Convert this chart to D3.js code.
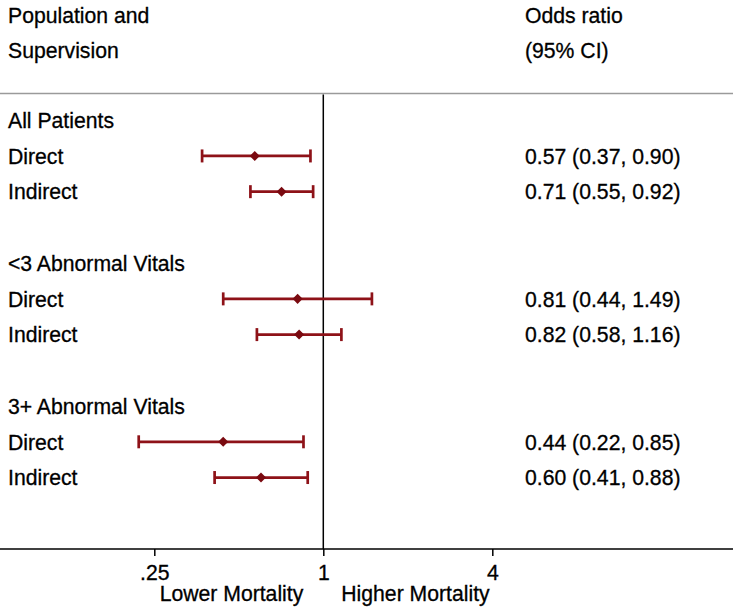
<!DOCTYPE html>
<html>
<head>
<meta charset="utf-8">
<script src="https://cdn.jsdelivr.net/npm/d3@7/dist/d3.min.js"></script>
<style>
  html, body { margin: 0; padding: 0; background: #fff; }
  svg text { font-family: "Liberation Sans", Arial, Helvetica, sans-serif; fill: #000; stroke: #000; stroke-width: 0.3px; }
</style>
</head>
<body>
<svg id="chart" width="733" height="611"></svg>
<script>
// ---- data ----
const groups = ["All Patients", "<3 Abnormal Vitals", "3+ Abnormal Vitals"];
const supervision = ["Direct", "Indirect"];
const oddsRatio = [0.57, 0.71, 0.81, 0.82, 0.44, 0.60];
const ciLower   = [0.37, 0.55, 0.44, 0.58, 0.22, 0.41];
const ciUpper   = [0.90, 0.92, 1.49, 1.16, 0.85, 0.88];
const tickValues = [0.25, 1, 4];
const tickLabels = [".25", "1", "4"];
const headerLeft = ["Population and", "Supervision"];
const headerRight = ["Odds ratio", "(95% CI)"];
const directionLabels = ["Lower Mortality", "Higher Mortality"];

// ---- layout ----
const W = 733, H = 611;
const FS = 21.2;
const svg = d3.select("#chart");
const color = "#8e1218";
const markColor = "#7a0a10";

const x = d3.scaleLog().domain([0.25, 4]).range([154.3, 492.3]);
const y = d3.scaleLinear().domain([0, 12]).range([120.2, 549]);
const axisY = y(12);
const lineTop = 93.5;

// build rows
const rows = [];
groups.forEach((g, gi) => {
  rows.push({type: "group", label: g, idx: gi * 4});
  supervision.forEach((s, si) => {
    const k = gi * 2 + si;
    rows.push({type: "est", label: s, idx: gi * 4 + 1 + si,
      or: oddsRatio[k], lo: ciLower[k], hi: ciUpper[k]});
  });
});

const fmt = d3.format(".2f");

// header
svg.selectAll("text.hl").data(headerLeft).join("text")
  .attr("class", "hl").attr("x", 8).attr("y", (d, i) => 22.5 + i * 35)
  .style("font-size", FS + "px").text(d => d);
svg.selectAll("text.hr").data(headerRight).join("text")
  .attr("class", "hr").attr("x", 525).attr("y", (d, i) => 22.5 + i * 35)
  .style("font-size", FS + "px").text(d => d);

// separator
svg.append("line").attr("x1", 0).attr("x2", W).attr("y1", lineTop).attr("y2", lineTop)
  .attr("stroke", "#9a9a9a").attr("stroke-width", 1.5);

// reference line at 1
svg.append("line").attr("x1", x(1)).attr("x2", x(1)).attr("y1", lineTop + 1).attr("y2", axisY)
  .attr("stroke", "#000").attr("stroke-width", 1.5);

// row labels
svg.selectAll("text.rl").data(rows).join("text")
  .attr("class", "rl").attr("x", 8).attr("y", d => y(d.idx) + 7.8)
  .style("font-size", FS + "px").text(d => d.label);

const est = rows.filter(d => d.type === "est");

// CI text
svg.selectAll("text.ci").data(est).join("text")
  .attr("class", "ci").attr("x", 525).attr("y", d => y(d.idx) + 7.8)
  .style("font-size", FS + "px")
  .text(d => `${fmt(d.or)} (${fmt(d.lo)}, ${fmt(d.hi)})`);

// error bars
const eb = svg.selectAll("g.eb").data(est).join("g").attr("class", "eb");
eb.append("line").attr("x1", d => x(d.lo)).attr("x2", d => x(d.hi))
  .attr("y1", d => y(d.idx)).attr("y2", d => y(d.idx))
  .attr("stroke", color).attr("stroke-width", 2.7);
eb.append("line").attr("x1", d => x(d.lo)).attr("x2", d => x(d.lo))
  .attr("y1", d => y(d.idx) - 6.5).attr("y2", d => y(d.idx) + 6.5)
  .attr("stroke", color).attr("stroke-width", 2.7);
eb.append("line").attr("x1", d => x(d.hi)).attr("x2", d => x(d.hi))
  .attr("y1", d => y(d.idx) - 6.5).attr("y2", d => y(d.idx) + 6.5)
  .attr("stroke", color).attr("stroke-width", 2.7);
eb.append("path")
  .attr("d", d3.symbol().type(d3.symbolDiamond2).size(64))
  .attr("transform", d => `translate(${x(d.or)},${y(d.idx)})`)
  .attr("fill", markColor);

// x axis
svg.append("line").attr("x1", 0).attr("x2", W).attr("y1", axisY).attr("y2", axisY)
  .attr("stroke", "#000").attr("stroke-width", 1.5);
const axis = d3.axisBottom(x).tickValues(tickValues)
  .tickFormat((d, i) => tickLabels[i]).tickSize(7).tickPadding(9);
const ga = svg.append("g").attr("transform", `translate(0,${axisY})`).call(axis);
ga.select(".domain").remove();
ga.selectAll(".tick line").attr("stroke", "#000").attr("stroke-width", 1.5);
ga.selectAll(".tick text").style("font-size", FS + "px")
  .style("font-family", "'Liberation Sans', Arial, Helvetica, sans-serif")
  .attr("fill", "#000").attr("stroke", "#000").attr("stroke-width", 0.3);

// direction labels
svg.append("text").attr("x", x(1) - 20).attr("y", 601).attr("text-anchor", "end")
  .style("font-size", FS + "px").text(directionLabels[0]);
svg.append("text").attr("x", x(1) + 18).attr("y", 601).attr("text-anchor", "start")
  .style("font-size", FS + "px").text(directionLabels[1]);
</script>
</body>
</html>
